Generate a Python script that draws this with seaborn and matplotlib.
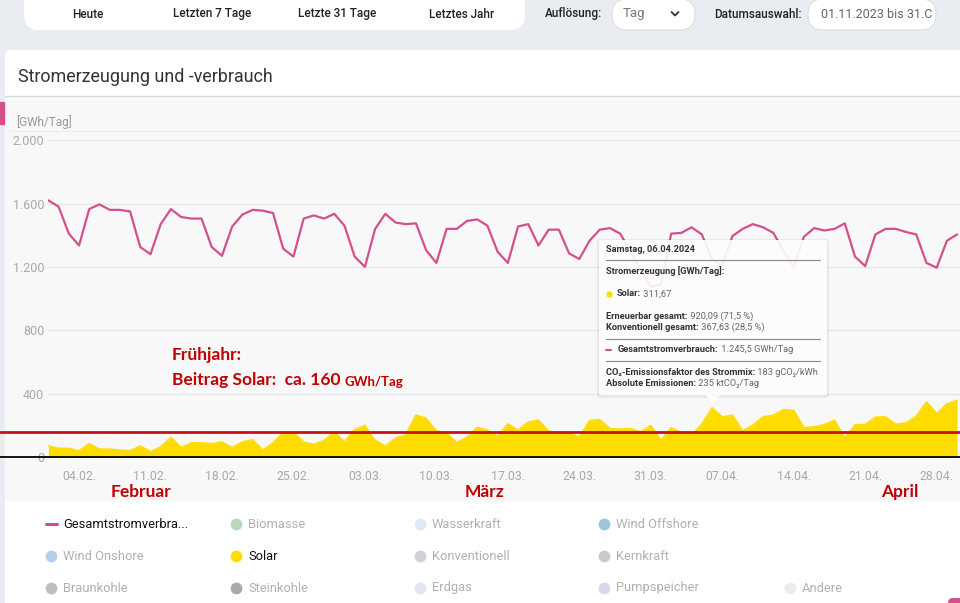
import matplotlib.pyplot as plt
import matplotlib.patches as mpatches
import matplotlib.ticker as mticker
import seaborn as sns
import pandas as pd

# daily values 01.02.2024 - 30.04.2024 [GWh/Tag]
dates = pd.date_range("2024-02-01", "2024-04-30", freq="D")

verbrauch = [
    # Februar
    1620, 1580, 1410, 1335, 1565, 1595, 1560, 1560, 1550, 1325, 1280, 1470, 1565, 1515,
    1505, 1505, 1325, 1270, 1455, 1530, 1560, 1555, 1540, 1315, 1265, 1505, 1525, 1505, 1535,
    # März
    1460, 1265, 1200, 1440, 1535, 1480, 1470, 1475, 1305, 1225, 1440, 1440, 1490, 1500,
    1460, 1295, 1225, 1455, 1470, 1335, 1435, 1435, 1285, 1250, 1365, 1435, 1445, 1410,
    1300, 1180, 1075,
    # April
    1090, 1410, 1415, 1450, 1405, 1245.5, 1210, 1395, 1440, 1470, 1450, 1415, 1300, 1195,
    1390, 1445, 1430, 1440, 1475, 1265, 1205, 1405, 1440, 1440, 1420, 1405, 1225, 1195,
    1365, 1405,
]

solar = [
    # Februar
    70, 55, 55, 40, 85, 50, 50, 45, 40, 70, 35, 65, 125, 60,
    90, 90, 85, 95, 60, 95, 110, 45, 90, 155, 155, 95, 80, 105, 160,
    # März
    95, 175, 200, 105, 70, 120, 140, 265, 245, 165, 150, 92, 126, 188,
    170, 130, 210, 170, 222, 233, 162, 155, 148, 128, 230, 237, 181, 176,
    180, 160, 200,
    # April
    107, 185, 153, 139, 210, 311.67, 254, 265, 166, 202, 254, 265, 300, 295,
    186, 191, 205, 233, 122, 204, 206, 252, 254, 206, 216, 258, 349, 275,
    336, 359,
]

tick_dates = pd.date_range("2024-02-04", periods=13, freq="7D")
y_ticks = [0, 400, 800, 1200, 1600, 2000]
solar_mark = 160

months = ["Februar", "März", "April"]
month_x = [141, 485, 900]

top_buttons = ["Heute", "Letzten 7 Tage", "Letzte 31 Tage", "Letztes Jahr"]

legend_labels = [
    ["Gesamtstromverbra...", "Biomasse", "Wasserkraft", "Wind Offshore", None],
    ["Wind Onshore", "Solar", "Konventionell", "Kernkraft", None],
    ["Braunkohle", "Steinkohle", "Erdgas", "Pumpspeicher", "Andere"],
]
legend_colors = [
    ["#d4508c", "#b9d8bb", "#dde9f6", "#9fc4d6", None],
    ["#b4cdeb", "#ffdc00", "#cfd0d8", "#c9c9c9", None],
    ["#bdbdbd", "#a9a9a9", "#dfe6ef", "#d6d8ec", "#ececec"],
]

PINK = "#d4508c"
YELLOW = "#ffdc00"
DARKRED = "#c00000"

sns.set_theme(style="white")
plt.rcParams["font.family"] = ["Roboto", "DejaVu Sans"]

fig = plt.figure(figsize=(9.6, 6.03), dpi=100)
fig.patch.set_facecolor("white")

# background (pixel coordinates)
bg = fig.add_axes([0, 0, 1, 1], zorder=0)
bg.set_xlim(0, 960)
bg.set_ylim(603, 0)
bg.axis("off")
bg.add_patch(mpatches.Rectangle((0, 0), 960, 603, color="#e9edf2"))
bg.add_patch(mpatches.FancyBboxPatch((5, 50), 960, 560, boxstyle="round,pad=0,rounding_size=6",
                                     fc="white", ec="none"))
bg.add_patch(mpatches.Rectangle((5, 96), 955, 404, color="#f8f8f9"))
bg.plot([5, 960], [95.5, 95.5], color="#d9d9d9", lw=1)
bg.plot([10, 960], [131, 131], color="#ececec", lw=0.8)
bg.add_patch(mpatches.Rectangle((0, 102), 4, 22, color=PINK))

# top bar
bg.add_patch(mpatches.FancyBboxPatch((24, -20), 501, 50, boxstyle="round,pad=0,rounding_size=15",
                                     fc="white", ec="none"))
for lab, xc in zip(top_buttons, [88, 212, 337, 462]):
    bg.text(xc, 14, lab, ha="center", va="center", fontsize=8.5, color="#222222", fontweight="medium")
bg.text(574, 14, "Auflösung:", ha="center", va="center", fontsize=8.5, color="#222222", fontweight="medium")
bg.add_patch(mpatches.FancyBboxPatch((612, -1), 83, 31, boxstyle="round,pad=0,rounding_size=15",
                                     fc="white", ec="#dcdcdc", lw=0.8))
bg.text(623, 14, "Tag", ha="left", va="center", fontsize=9.5, color="#777777")
bg.plot([671.5, 675, 678.5], [12, 15.5, 12], color="#333333", lw=1.3)
bg.text(758, 14, "Datumsauswahl:", ha="center", va="center", fontsize=8.5, color="#222222", fontweight="medium")
bg.add_patch(mpatches.FancyBboxPatch((808, -1), 128, 31, boxstyle="round,pad=0,rounding_size=15",
                                     fc="white", ec="#dcdcdc", lw=0.8))
bg.text(821, 14, "01.11.2023 bis 31.C", ha="left", va="center", fontsize=9, color="#666666")

bg.text(18, 77, "Stromerzeugung und -verbrauch", ha="left", va="center", fontsize=12.9, color="#333333")
bg.text(16, 122, "[GWh/Tag]", ha="left", va="center", fontsize=8.5, color="#999999")

# main chart
x0_px, x1_px, y0_px, y1_px = 48.4, 960, 457, 140
px_per_day = 10.21
ax = fig.add_axes([x0_px / 960, (603 - y0_px) / 603, (x1_px - x0_px) / 960, (y0_px - y1_px) / 603], zorder=1)
ax.set_facecolor("none")

ax.fill_between(dates, 0, solar, color=YELLOW, lw=0, zorder=2)
sns.lineplot(x=dates, y=solar, ax=ax, color=YELLOW, linewidth=1, zorder=2)
sns.lineplot(x=dates, y=verbrauch, ax=ax, color=PINK, linewidth=1.6, zorder=3)

ax.set_xlim(dates[0], dates[0] + pd.Timedelta(days=(x1_px - x0_px) / px_per_day))
ax.set_ylim(0, 2001)
ax.set_yticks(y_ticks)
ax.yaxis.set_major_formatter(mticker.FuncFormatter(lambda v, p: f"{int(v):,}".replace(",", ".")))
ax.set_xticks(tick_dates)
ax.set_xticklabels([d.strftime("%d.%m.") for d in tick_dates])
ax.tick_params(axis="x", length=0, pad=9, labelsize=8.8, labelcolor="#a8a8a8")
ax.tick_params(axis="y", length=0, pad=3, labelsize=9, labelcolor="#a8a8a8")
ax.grid(axis="y", color="#e6e6e6", lw=1)
ax.grid(axis="x", visible=False)
for s in ax.spines.values():
    s.set_visible(False)
ax.set_xlabel("")
ax.set_ylabel("")

# annotation lines across the whole width
ax.axhline(solar_mark, xmin=-0.06, xmax=1, color="#c8101a", lw=2, clip_on=False, zorder=4)
ax.axhline(0, xmin=-0.06, xmax=1, color="black", lw=1.3, clip_on=False, zorder=4)

# overlay: annotation texts, tooltip, legend
ov = fig.add_axes([0, 0, 1, 1], zorder=2)
ov.set_xlim(0, 960)
ov.set_ylim(603, 0)
ov.axis("off")
ov.patch.set_alpha(0)

ov.text(172, 355, "Frühjahr:", ha="left", va="center", fontsize=12.5, fontweight="bold",
        color=DARKRED, family=["Lato", "DejaVu Sans"])
t = ov.text(172, 388, f"Beitrag Solar:  ca. {solar_mark} ", ha="left", va="bottom", fontsize=12.5,
            fontweight="bold", color=DARKRED, family=["Lato", "DejaVu Sans"])
ov.annotate("GWh/Tag", xy=(1, 0), xycoords=t, ha="left", va="bottom", fontsize=9.5,
            fontweight="bold", color=DARKRED, family=["Lato", "DejaVu Sans"])
for m, mx in zip(months, month_x):
    ov.text(mx, 492, m, ha="center", va="center", fontsize=12.5, fontweight="bold",
            color=DARKRED, family=["Lato", "DejaVu Sans"])

# tooltip
tx0, ty0, tx1, ty1 = 599, 240, 827, 395
ov.add_patch(mpatches.FancyBboxPatch((tx0 - 2, ty0 - 1), tx1 - tx0 + 4, ty1 - ty0 + 4,
                                     boxstyle="round,pad=0,rounding_size=3", fc="#000000",
                                     ec="none", alpha=0.06))
ov.add_patch(mpatches.FancyBboxPatch((tx0, ty0), tx1 - tx0, ty1 - ty0,
                                     boxstyle="round,pad=0,rounding_size=2", fc="white",
                                     ec="none", alpha=0.9))
ov.add_patch(mpatches.Polygon([[706, ty1], [720, ty1], [713, 404]], closed=True, fc="white",
                              ec="none", alpha=0.9))
fs = 6.7
dark, grey = "#333333", "#666666"


def rich(x, y, bold, normal):
    tb = ov.text(x, y, bold, ha="left", va="center", fontsize=fs, fontweight="bold", color=dark)
    if normal:
        ov.annotate(" " + normal, xy=(1, 0.5), xycoords=tb, ha="left", va="center",
                    fontsize=fs, color=grey)


rich(606, 250, "Samstag, 06.04.2024", "")
ov.plot([606, 820], [259.5, 259.5], color="#888888", lw=0.8)
rich(606, 271.5, "Stromerzeugung [GWh/Tag]:", "")
ov.scatter([608.5], [294], s=12, color=YELLOW, zorder=5)
rich(617, 294, "Solar:", "311,67")
rich(606, 316.5, "Erneuerbar gesamt:", "920,09 (71,5 %)")
rich(606, 327.5, "Konventionell gesamt:", "367,63 (28,5 %)")
ov.plot([606, 820], [338.5, 338.5], color="#888888", lw=0.8)
ov.plot([606, 611], [350, 350], color=PINK, lw=1.5)
rich(618, 350, "Gesamtstromverbrauch:", "1.245,5 GWh/Tag")
ov.plot([606, 820], [361, 361], color="#888888", lw=0.8)
rich(606, 372.5, "CO₂-Emissionsfaktor des Strommix:", "183 gCO₂/kWh")
rich(606, 383.5, "Absolute Emissionen:", "235 ktCO₂/Tag")

# legend
col_x = [51, 236, 420, 604, 790]
row_y = [524, 556, 588]
for r, (labs, cols) in enumerate(zip(legend_labels, legend_colors)):
    for c, (lab, col) in enumerate(zip(labs, cols)):
        if lab is None:
            continue
        active = lab.startswith("Gesamt") or lab == "Solar"
        if lab.startswith("Gesamt"):
            ov.plot([46, 57], [row_y[r], row_y[r]], color=col, lw=2.2, solid_capstyle="round")
        else:
            ov.scatter([col_x[c]], [row_y[r]], s=55, color=col, zorder=5)
        ov.text(col_x[c] + 12, row_y[r], lab, ha="left", va="center", fontsize=9.3,
                color="#111111" if active else "#b0b0b0")

ov.add_patch(mpatches.FancyBboxPatch((948, 598), 20, 20, boxstyle="round,pad=0,rounding_size=5",
                                     fc=PINK, ec="none"))

fig.savefig("out.png", dpi=100)
